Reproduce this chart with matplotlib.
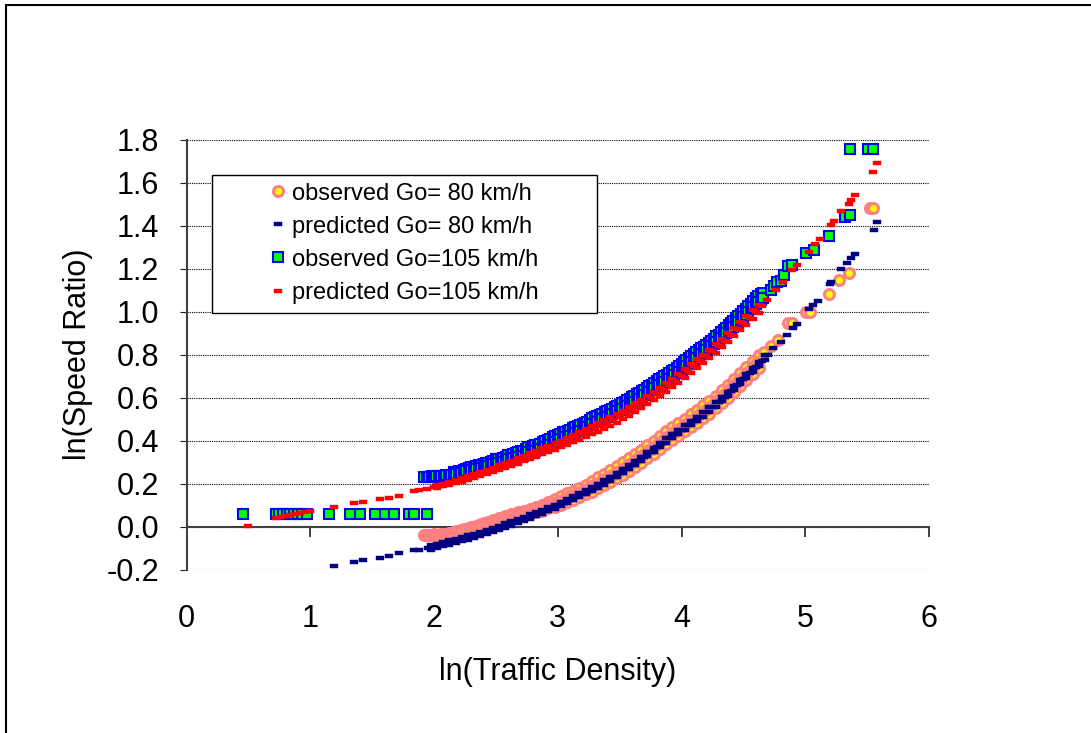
import matplotlib
matplotlib.use("Agg")
import matplotlib.pyplot as plt
from matplotlib.path import Path
from matplotlib.patches import Rectangle

plt.rcParams['font.family'] = ['Liberation Sans', 'DejaVu Sans']

# ======================= data =======================
# ---- observed Go = 80 km/h (main run, then the upper / lower edges of the cloud, then sparse tail)
obs80_main_x = [1.92, 1.94, 1.96, 1.98, 2.00, 2.02, 2.04, 2.06, 2.08, 2.10, 2.12, 2.14, 2.16, 2.18,
                2.20, 2.22, 2.24, 2.26, 2.28, 2.30, 2.32, 2.34, 2.36, 2.38, 2.40, 2.42, 2.44, 2.46,
                2.48, 2.50, 2.52, 2.54, 2.56, 2.58, 2.60, 2.62, 2.64, 2.66, 2.68, 2.70, 2.72, 2.74,
                2.76, 2.78, 2.80, 2.82, 2.84, 2.86, 2.88, 2.90, 2.92, 2.94, 2.96, 2.98, 3.00, 3.02,
                3.04, 3.06, 3.08, 3.10, 3.12, 3.14, 3.16, 3.18, 3.20, 3.22, 3.24, 3.26, 3.28, 3.30,
                3.32, 3.34, 3.36, 3.38, 3.40, 3.42, 3.44, 3.46, 3.48, 3.50, 3.52, 3.54, 3.56, 3.58,
                3.60, 3.62, 3.64, 3.66, 3.68, 3.70, 3.72, 3.74, 3.76, 3.78, 3.80, 3.82, 3.84, 3.86,
                3.88, 3.90, 3.92, 3.94, 3.96, 3.98, 4.00, 4.02, 4.04, 4.06, 4.08, 4.10, 4.12, 4.14,
                4.16, 4.18, 4.20, 4.22, 4.24, 4.26, 4.28, 4.30, 4.32, 4.34, 4.36, 4.38, 4.40, 4.42,
                4.44, 4.46, 4.48, 4.50, 4.52, 4.54, 4.56, 4.58, 4.60, 4.62]
obs80_main_y = [-0.040, -0.040, -0.038, -0.040, -0.036, -0.038, -0.038, -0.035, -0.037, -0.036,
                -0.030, -0.028, -0.024, -0.022, -0.020, -0.018, -0.013, -0.010, -0.006, -0.003,
                0.000, 0.004, 0.008, 0.012, 0.015, 0.018, 0.020, 0.022, 0.025, 0.028, 0.032, 0.036,
                0.038, 0.042, 0.046, 0.048, 0.050, 0.053, 0.056, 0.059, 0.062, 0.064, 0.067, 0.071,
                0.075, 0.078, 0.082, 0.086, 0.090, 0.094, 0.099, 0.103, 0.107, 0.111, 0.116, 0.120,
                0.125, 0.130, 0.135, 0.139, 0.145, 0.149, 0.155, 0.159, 0.165, 0.171, 0.175, 0.181,
                0.187, 0.193, 0.199, 0.206, 0.212, 0.219, 0.225, 0.232, 0.239, 0.246, 0.253, 0.260,
                0.267, 0.274, 0.282, 0.289, 0.297, 0.305, 0.313, 0.321, 0.329, 0.337, 0.345, 0.354,
                0.362, 0.371, 0.380, 0.389, 0.398, 0.406, 0.414, 0.422, 0.430, 0.438, 0.446, 0.454,
                0.462, 0.470, 0.478, 0.486, 0.494, 0.502, 0.510, 0.518, 0.526, 0.535, 0.544, 0.553,
                0.562, 0.572, 0.581, 0.591, 0.601, 0.611, 0.621, 0.632, 0.642, 0.653, 0.664, 0.675,
                0.686, 0.697, 0.708, 0.719, 0.731, 0.742, 0.754, 0.766]
obs80_edge_x = [2.475, 2.525, 2.575, 2.625, 2.675, 2.725, 2.775, 2.825, 2.875, 2.925, 2.975, 3.025,
                3.075, 3.125, 3.175, 3.225, 3.275, 3.325, 3.375, 3.425, 3.475, 3.525, 3.575, 3.625,
                3.675, 3.725, 3.775, 3.825, 3.875, 3.925, 3.975, 4.025, 4.075, 4.125, 4.175, 4.225,
                4.275, 4.325, 4.375, 4.425, 4.475, 4.525, 4.575, 4.625]
obs80_upper_y = [0.030, 0.040, 0.049, 0.058, 0.066, 0.074, 0.082, 0.092, 0.102, 0.116, 0.128, 0.140,
                 0.154, 0.167, 0.180, 0.195, 0.210, 0.228, 0.244, 0.261, 0.280, 0.298, 0.318, 0.337,
                 0.357, 0.377, 0.399, 0.421, 0.442, 0.462, 0.482, 0.502, 0.522, 0.542, 0.563, 0.585,
                 0.609, 0.633, 0.659, 0.686, 0.713, 0.741, 0.769, 0.799]
obs80_lower_y = [0.018, 0.026, 0.033, 0.040, 0.046, 0.052, 0.058, 0.066, 0.074, 0.084, 0.092, 0.102,
                 0.114, 0.125, 0.136, 0.149, 0.162, 0.178, 0.192, 0.207, 0.224, 0.240, 0.258, 0.277,
                 0.297, 0.317, 0.339, 0.361, 0.382, 0.402, 0.422, 0.442, 0.462, 0.482, 0.503, 0.525,
                 0.549, 0.573, 0.599, 0.626, 0.653, 0.681, 0.709, 0.739]
obs80_tail_x = [4.67, 4.72, 4.78, 4.86, 4.89, 5.01, 5.04, 5.19, 5.27, 5.35, 5.52, 5.55]
obs80_tail_y = [0.813, 0.840, 0.867, 0.948, 0.948, 0.999, 0.999, 1.081, 1.147, 1.178, 1.483, 1.483]

# ---- predicted Go = 80 km/h
pred80_low_x = [1.19, 1.35, 1.43, 1.56, 1.64, 1.72, 1.84, 1.88]
pred80_low_y = [-0.184, -0.164, -0.156, -0.145, -0.136, -0.125, -0.110, -0.107]
pred80_main_x = [1.95, 2.00, 2.05, 2.10, 2.15, 2.20, 2.25, 2.30, 2.35, 2.40, 2.45, 2.50, 2.55, 2.60,
                 2.65, 2.70, 2.75, 2.80, 2.85, 2.90, 2.95, 3.00, 3.05, 3.10, 3.15, 3.20, 3.25, 3.30,
                 3.35, 3.40, 3.45, 3.50, 3.55, 3.60, 3.65, 3.70, 3.75, 3.80, 3.85, 3.90, 3.95, 4.00,
                 4.05, 4.10, 4.15, 4.20, 4.25, 4.30, 4.35, 4.40, 4.45, 4.50, 4.55, 4.60, 4.65, 4.70]
pred80_main_y = [-0.100, -0.094, -0.087, -0.078, -0.071, -0.063, -0.055, -0.047, -0.038, -0.029,
                 -0.020, -0.011, -0.001, 0.009, 0.019, 0.030, 0.040, 0.051, 0.062, 0.074, 0.086,
                 0.098, 0.111, 0.124, 0.138, 0.152, 0.166, 0.181, 0.197, 0.213, 0.230, 0.248, 0.266,
                 0.285, 0.305, 0.325, 0.346, 0.368, 0.390, 0.410, 0.430, 0.450, 0.470, 0.490, 0.510,
                 0.532, 0.555, 0.579, 0.604, 0.630, 0.657, 0.685, 0.713, 0.742, 0.771, 0.800]
pred80_edge_x = [1.975, 2.025, 2.075, 2.125, 2.175, 2.225, 2.275, 2.325, 2.375, 2.425, 2.475, 2.525,
                 2.575, 2.625, 2.675, 2.725, 2.775, 2.825, 2.875, 2.925, 2.975, 3.025, 3.075, 3.125,
                 3.175, 3.225, 3.275, 3.325, 3.375, 3.425, 3.475, 3.525, 3.575, 3.625, 3.675, 3.725,
                 3.775, 3.825, 3.875, 3.925, 3.975, 4.025, 4.075, 4.125, 4.175, 4.225, 4.275, 4.325,
                 4.375, 4.425, 4.475, 4.525, 4.575, 4.625, 4.675]
pred80_upper_y = [-0.087, -0.081, -0.073, -0.065, -0.057, -0.049, -0.041, -0.033, -0.024, -0.015,
                  -0.006, 0.004, 0.014, 0.024, 0.035, 0.045, 0.056, 0.067, 0.078, 0.090, 0.102,
                  0.115, 0.128, 0.141, 0.155, 0.169, 0.184, 0.199, 0.215, 0.232, 0.249, 0.267,
                  0.286, 0.305, 0.325, 0.346, 0.367, 0.389, 0.410, 0.430, 0.450, 0.470, 0.490,
                  0.510, 0.531, 0.554, 0.577, 0.602, 0.627, 0.654, 0.681, 0.709, 0.738, 0.767, 0.796]
pred80_lower_y = [-0.107, -0.101, -0.093, -0.085, -0.077, -0.069, -0.061, -0.053, -0.044, -0.035,
                  -0.026, -0.016, -0.006, 0.004, 0.015, 0.025, 0.036, 0.047, 0.058, 0.070, 0.082,
                  0.095, 0.108, 0.121, 0.135, 0.149, 0.164, 0.179, 0.195, 0.212, 0.229, 0.247,
                  0.266, 0.285, 0.305, 0.326, 0.347, 0.369, 0.390, 0.410, 0.430, 0.450, 0.470,
                  0.490, 0.511, 0.534, 0.557, 0.582, 0.607, 0.634, 0.661, 0.689, 0.718, 0.747, 0.776]
pred80_tail_x = [4.74, 4.80, 4.85, 4.90, 4.93, 5.03, 5.065, 5.105, 5.20, 5.21, 5.29, 5.34, 5.37,
                 5.40, 5.556, 5.58]
pred80_tail_y = [0.829, 0.860, 0.891, 0.922, 0.942, 1.010, 1.030, 1.050, 1.128, 1.139, 1.196, 1.224,
                 1.247, 1.267, 1.379, 1.418]

# ---- observed Go = 105 km/h
obs105_low_x = [0.46, 0.72, 0.75, 0.78, 0.81, 0.84, 0.87, 0.90, 0.93, 0.97, 1.15, 1.32, 1.40, 1.52,
                1.60, 1.68, 1.80, 1.84, 1.94]
obs105_low_y = [0.058, 0.058, 0.058, 0.058, 0.058, 0.058, 0.058, 0.058, 0.058, 0.058, 0.058, 0.058,
                0.058, 0.058, 0.058, 0.058, 0.058, 0.058, 0.058]
obs105_upper_x = [2.16, 2.18, 2.20, 2.22, 2.24, 2.26, 2.28, 2.30, 2.32, 2.34, 2.36, 2.38, 2.40, 2.42,
                  2.44, 2.46, 2.48, 2.50, 2.52, 2.54, 2.56, 2.58, 2.60, 2.62, 2.64, 2.66, 2.68, 2.70,
                  2.72, 2.74, 2.76, 2.78, 2.80, 2.82, 2.84, 2.86, 2.88, 2.90, 2.92, 2.94, 2.96, 2.98,
                  3.00, 3.02, 3.04, 3.06, 3.08, 3.10, 3.12, 3.14, 3.16, 3.18, 3.20, 3.22, 3.24, 3.26,
                  3.28, 3.30, 3.32, 3.34, 3.36, 3.38, 3.40, 3.42, 3.44, 3.46, 3.48, 3.50, 3.52, 3.54,
                  3.56, 3.58, 3.60, 3.62, 3.64, 3.66, 3.68, 3.70, 3.72, 3.74, 3.76, 3.78, 3.80, 3.82,
                  3.84, 3.86, 3.88, 3.90, 3.92, 3.94, 3.96, 3.98, 4.00, 4.02, 4.04, 4.06, 4.08, 4.10,
                  4.12, 4.14, 4.16, 4.18, 4.20, 4.22, 4.24, 4.26, 4.28, 4.30, 4.32, 4.34, 4.36, 4.38,
                  4.40, 4.42, 4.44, 4.46, 4.48, 4.50, 4.52, 4.54, 4.56, 4.58, 4.60, 4.62, 4.64, 4.66]
obs105_upper_y = [0.252, 0.254, 0.256, 0.257, 0.262, 0.269, 0.273, 0.275, 0.277, 0.281, 0.284, 0.285,
                  0.292, 0.295, 0.296, 0.300, 0.306, 0.313, 0.313, 0.316, 0.318, 0.325, 0.331, 0.332,
                  0.338, 0.341, 0.346, 0.350, 0.352, 0.359, 0.368, 0.370, 0.374, 0.377, 0.381, 0.386,
                  0.394, 0.398, 0.402, 0.406, 0.414, 0.420, 0.426, 0.431, 0.438, 0.441, 0.444, 0.449,
                  0.456, 0.462, 0.468, 0.471, 0.476, 0.481, 0.488, 0.496, 0.504, 0.510, 0.514, 0.520,
                  0.524, 0.531, 0.536, 0.541, 0.548, 0.554, 0.561, 0.566, 0.574, 0.580, 0.588, 0.594,
                  0.601, 0.606, 0.616, 0.621, 0.628, 0.636, 0.644, 0.652, 0.660, 0.668, 0.676, 0.684,
                  0.690, 0.698, 0.706, 0.714, 0.721, 0.730, 0.738, 0.746, 0.754, 0.764, 0.774, 0.782,
                  0.791, 0.801, 0.810, 0.819, 0.828, 0.837, 0.846, 0.855, 0.864, 0.874, 0.884, 0.893,
                  0.904, 0.914, 0.924, 0.936, 0.946, 0.956, 0.968, 0.978, 0.988, 1.001, 1.011, 1.024,
                  1.036, 1.048, 1.061, 1.071, 1.081, 1.088]
obs105_main_x = [1.92, 1.94, 1.96, 1.98, 2.00, 2.02, 2.04, 2.06, 2.08, 2.10, 2.12, 2.14, 2.16, 2.18,
                 2.20, 2.22, 2.24, 2.26, 2.28, 2.30, 2.32, 2.34, 2.36, 2.38, 2.40, 2.42, 2.44, 2.46,
                 2.48, 2.50, 2.52, 2.54, 2.56, 2.58, 2.60, 2.62, 2.64, 2.66, 2.68, 2.70, 2.72, 2.74,
                 2.76, 2.78, 2.80, 2.82, 2.84, 2.86, 2.88, 2.90, 2.92, 2.94, 2.96, 2.98, 3.00, 3.02,
                 3.04, 3.06, 3.08, 3.10, 3.12, 3.14, 3.16, 3.18, 3.20, 3.22, 3.24, 3.26, 3.28, 3.30,
                 3.32, 3.34, 3.36, 3.38, 3.40, 3.42, 3.44, 3.46, 3.48, 3.50, 3.52, 3.54, 3.56, 3.58,
                 3.60, 3.62, 3.64, 3.66, 3.68, 3.70, 3.72, 3.74, 3.76, 3.78, 3.80, 3.82, 3.84, 3.86,
                 3.88, 3.90, 3.92, 3.94, 3.96, 3.98, 4.00, 4.02, 4.04, 4.06, 4.08, 4.10, 4.12, 4.14,
                 4.16, 4.18, 4.20, 4.22, 4.24, 4.26, 4.28, 4.30, 4.32, 4.34, 4.36, 4.38, 4.40, 4.42,
                 4.44, 4.46, 4.48, 4.50, 4.52, 4.54, 4.56, 4.58, 4.60, 4.62, 4.64, 4.66]
obs105_main_y = [0.232, 0.232, 0.232, 0.234, 0.232, 0.234, 0.236, 0.234, 0.236, 0.238, 0.236, 0.240,
                 0.244, 0.245, 0.247, 0.247, 0.252, 0.258, 0.262, 0.263, 0.265, 0.268, 0.271, 0.271,
                 0.278, 0.280, 0.281, 0.284, 0.290, 0.296, 0.296, 0.298, 0.300, 0.306, 0.312, 0.312,
                 0.318, 0.320, 0.325, 0.328, 0.330, 0.336, 0.345, 0.346, 0.350, 0.352, 0.356, 0.360,
                 0.368, 0.372, 0.376, 0.380, 0.388, 0.394, 0.400, 0.405, 0.412, 0.415, 0.418, 0.423,
                 0.430, 0.436, 0.442, 0.445, 0.450, 0.455, 0.462, 0.470, 0.478, 0.484, 0.488, 0.494,
                 0.498, 0.505, 0.510, 0.515, 0.522, 0.528, 0.535, 0.540, 0.548, 0.554, 0.562, 0.568,
                 0.575, 0.580, 0.590, 0.595, 0.602, 0.610, 0.618, 0.626, 0.634, 0.642, 0.650, 0.658,
                 0.664, 0.672, 0.680, 0.688, 0.695, 0.704, 0.712, 0.720, 0.728, 0.738, 0.748, 0.756,
                 0.765, 0.775, 0.784, 0.793, 0.802, 0.811, 0.820, 0.829, 0.838, 0.848, 0.858, 0.867,
                 0.878, 0.888, 0.898, 0.910, 0.920, 0.930, 0.942, 0.952, 0.962, 0.975, 0.985, 0.998,
                 1.010, 1.022, 1.035, 1.045, 1.055, 1.062]
obs105_tail_x = [4.72, 4.75, 4.77, 4.80, 4.83, 4.86, 4.89, 5.01, 5.07, 5.19, 5.32, 5.36, 5.36, 5.51,
                 5.55]
obs105_tail_y = [1.100, 1.120, 1.139, 1.140, 1.170, 1.210, 1.216, 1.274, 1.286, 1.351, 1.440, 1.449,
                 1.754, 1.754, 1.754]

# ---- predicted Go = 105 km/h
pred105_low_x = [0.50, 0.72, 0.76, 0.80, 0.84, 0.88, 0.92, 0.96, 1.00, 1.19, 1.35, 1.43, 1.56, 1.64,
                 1.72, 1.84, 1.88, 1.94]
pred105_low_y = [0.004, 0.040, 0.044, 0.048, 0.053, 0.057, 0.062, 0.066, 0.070, 0.089, 0.108, 0.115,
                 0.127, 0.134, 0.142, 0.165, 0.168, 0.173]
pred105_edge_x = [2.025, 2.075, 2.125, 2.175, 2.225, 2.275, 2.325, 2.375, 2.425, 2.475, 2.525, 2.575,
                  2.625, 2.675, 2.725, 2.775, 2.825, 2.875, 2.925, 2.975, 3.025, 3.075, 3.125, 3.175,
                  3.225, 3.275, 3.325, 3.375, 3.425, 3.475, 3.525, 3.575, 3.625, 3.675, 3.725, 3.775,
                  3.825, 3.875, 3.925, 3.975, 4.025, 4.075, 4.125, 4.175, 4.225, 4.275, 4.325, 4.375,
                  4.425, 4.475, 4.525, 4.575, 4.625]
pred105_upper_y = [0.193, 0.200, 0.208, 0.216, 0.225, 0.234, 0.244, 0.253, 0.263, 0.273, 0.284, 0.294,
                   0.306, 0.317, 0.329, 0.340, 0.352, 0.363, 0.375, 0.387, 0.400, 0.413, 0.427, 0.441,
                   0.455, 0.468, 0.481, 0.495, 0.509, 0.523, 0.539, 0.556, 0.573, 0.590, 0.608, 0.627,
                   0.646, 0.666, 0.687, 0.709, 0.731, 0.754, 0.777, 0.800, 0.823, 0.848, 0.873, 0.898,
                   0.925, 0.952, 0.979, 1.005, 1.032]
pred105_lower_y = [0.181, 0.188, 0.194, 0.202, 0.209, 0.218, 0.226, 0.235, 0.243, 0.253, 0.262, 0.272,
                   0.282, 0.293, 0.303, 0.314, 0.324, 0.335, 0.345, 0.357, 0.368, 0.379, 0.391, 0.403,
                   0.415, 0.428, 0.441, 0.455, 0.469, 0.483, 0.499, 0.516, 0.533, 0.550, 0.568, 0.587,
                   0.606, 0.626, 0.647, 0.669, 0.691, 0.714, 0.737, 0.760, 0.783, 0.808, 0.833, 0.858,
                   0.885, 0.912, 0.939, 0.965, 0.992]
pred105_main_x = [2.00, 2.05, 2.10, 2.15, 2.20, 2.25, 2.30, 2.35, 2.40, 2.45, 2.50, 2.55, 2.60, 2.65,
                  2.70, 2.75, 2.80, 2.85, 2.90, 2.95, 3.00, 3.05, 3.10, 3.15, 3.20, 3.25, 3.30, 3.35,
                  3.40, 3.45, 3.50, 3.55, 3.60, 3.65, 3.70, 3.75, 3.80, 3.85, 3.90, 3.95, 4.00, 4.05,
                  4.10, 4.15, 4.20, 4.25, 4.30, 4.35, 4.40, 4.45, 4.50, 4.55, 4.60, 4.65]
pred105_main_y = [0.183, 0.190, 0.197, 0.205, 0.213, 0.221, 0.230, 0.239, 0.248, 0.258, 0.268, 0.278,
                  0.288, 0.299, 0.310, 0.321, 0.332, 0.343, 0.354, 0.366, 0.378, 0.390, 0.402, 0.415,
                  0.428, 0.441, 0.454, 0.468, 0.482, 0.496, 0.510, 0.527, 0.544, 0.561, 0.579, 0.597,
                  0.616, 0.636, 0.656, 0.677, 0.700, 0.722, 0.745, 0.768, 0.791, 0.815, 0.840, 0.865,
                  0.891, 0.918, 0.945, 0.972, 0.998, 1.025]
pred105_tail_x = [4.69, 4.76, 4.82, 4.89, 4.93, 5.03, 5.08, 5.12, 5.21, 5.23, 5.29, 5.35, 5.37, 5.40,
                  5.55, 5.58]
pred105_tail_y = [1.053, 1.100, 1.139, 1.193, 1.216, 1.278, 1.312, 1.336, 1.402, 1.422, 1.467, 1.500,
                  1.518, 1.542, 1.650, 1.689]

x_ticks = [0, 1, 2, 3, 4, 5, 6]
x_tick_labels = ['0', '1', '2', '3', '4', '5', '6']
y_ticks = [-0.2, 0.0, 0.2, 0.4, 0.6, 0.8, 1.0, 1.2, 1.4, 1.6, 1.8]
y_tick_labels = ['-0.2', '0.0', '0.2', '0.4', '0.6', '0.8', '1.0', '1.2', '1.4', '1.6', '1.8']

labels = ['observed Go= 80 km/h', 'predicted Go= 80 km/h',
          'observed Go=105 km/h', 'predicted Go=105 km/h']

# series assembled in drawing order (cloud edges first, main run on top)
obs80_x = obs80_edge_x + obs80_edge_x + obs80_main_x + obs80_tail_x
obs80_y = obs80_upper_y + obs80_lower_y + obs80_main_y + obs80_tail_y
pred80_x = pred80_low_x + pred80_edge_x + pred80_edge_x + pred80_main_x + pred80_tail_x
pred80_y = pred80_low_y + pred80_upper_y + pred80_lower_y + pred80_main_y + pred80_tail_y
obs105_x = obs105_low_x + obs105_upper_x + obs105_main_x + obs105_tail_x
obs105_y = obs105_low_y + obs105_upper_y + obs105_main_y + obs105_tail_y
pred105_x = pred105_low_x + pred105_edge_x + pred105_edge_x + pred105_main_x + pred105_tail_x
pred105_y = pred105_low_y + pred105_upper_y + pred105_lower_y + pred105_main_y + pred105_tail_y

# ======================= figure =======================
W, H = 1091, 733
fig = plt.figure(figsize=(W / 100, H / 100), dpi=100)
ax = fig.add_axes([186.5 / W, (H - 569.5) / H, 742.5 / W, 430 / H])

dash = Path([(-1, -0.5), (1, -0.5), (1, 0.5), (-1, 0.5), (-1, -0.5)],
            [Path.MOVETO, Path.LINETO, Path.LINETO, Path.LINETO, Path.CLOSEPOLY])

h1, = ax.plot(obs80_x, obs80_y, linestyle='none', marker='o', markersize=7.2,
              markerfacecolor='#FFFF00', markeredgecolor='#FF8080', markeredgewidth=2.2,
              zorder=3, clip_on=False)
h2, = ax.plot(pred80_x, pred80_y, linestyle='none', marker=dash, markersize=5.8,
              markerfacecolor='#000080', markeredgecolor='#000080', markeredgewidth=0.3,
              zorder=4, clip_on=False)
h3, = ax.plot(obs105_x, obs105_y, linestyle='none', marker='s', markersize=7.0,
              markerfacecolor='#00FF00', markeredgecolor='#0000FF', markeredgewidth=1.5,
              zorder=5, clip_on=False)
h4, = ax.plot(pred105_x, pred105_y, linestyle='none', marker=dash, markersize=5.8,
              markerfacecolor='#FF0000', markeredgecolor='#FF0000', markeredgewidth=0.3,
              zorder=6, clip_on=False)

ax.set_xlim(0, 6)
ax.set_ylim(-0.2, 1.8)

for s in ['top', 'right']:
    ax.spines[s].set_visible(False)
ax.spines['bottom'].set_position(('data', 0))
for s in ['bottom', 'left']:
    ax.spines[s].set_color('#404040')
    ax.spines[s].set_linewidth(1.5)
ax.spines['bottom'].set_zorder(2.5)

ax.set_xticks(x_ticks)
ax.set_xticklabels(x_tick_labels)
ax.set_yticks(y_ticks)
ax.set_yticklabels(y_tick_labels)
ax.tick_params(axis='x', direction='out', length=7.2, width=1.4, color='#404040',
               pad=48.5, labelsize=22)
ax.tick_params(axis='y', direction='out', length=4.7, width=0.8, color='#202020',
               pad=15, labelsize=22)

ax.grid(axis='y', color='black', linestyle=(0, (1, 1)), linewidth=0.8, zorder=1)
ax.set_axisbelow(True)

ax.set_xlabel('ln(Traffic Density)', fontsize=22)
ax.set_ylabel('ln(Speed Ratio)', fontsize=22)
ax.xaxis.set_label_coords(0.5, -0.204)
ax.xaxis.label.set_va('top')
ax.yaxis.set_label_coords(-0.146, 0.5)
ax.yaxis.label.set_va('center')

# legend frame and entries
fig.patches.append(Rectangle((212 / W, (H - 313) / H), (597 - 212) / W, 138 / H,
                             transform=fig.transFigure, facecolor='white',
                             edgecolor='black', linewidth=1.0, zorder=10))
leg = fig.legend([h1, h2, h3, h4], labels, loc='upper left',
                 bbox_to_anchor=(268.3 / W, (H - 182.5) / H), bbox_transform=fig.transFigure,
                 frameon=False, borderpad=0, borderaxespad=0, handlelength=0.8,
                 handletextpad=0.2, labelspacing=0.47, fontsize=17, numpoints=1)
leg.set_zorder(11)

# outer chart border
fig.patches.append(Rectangle((6 / W, -0.1), 1.2, (H - 5) / H + 0.1,
                             transform=fig.transFigure, facecolor='none',
                             edgecolor='black', linewidth=1.5, zorder=20))

fig.savefig('out.png', dpi=100)
